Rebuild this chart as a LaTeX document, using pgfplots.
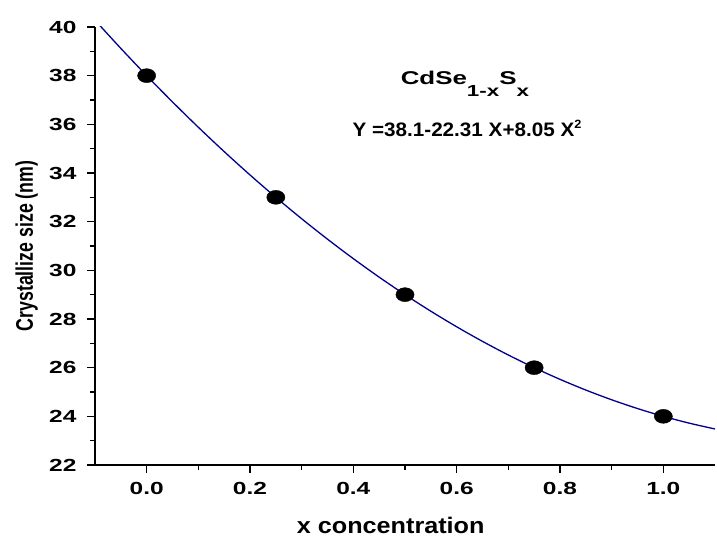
\documentclass[border=0pt]{standalone}
\usepackage{fontspec}
\setmainfont{Liberation Sans}
\newfontfamily\tickf[FakeStretch=1.4]{Liberation Sans}
\newfontfamily\xlabf[FakeStretch=1.12]{Liberation Sans}
\newfontfamily\ylabf[FakeStretch=0.74]{Liberation Sans}
\newfontfamily\eqf[FakeStretch=1.06]{Liberation Sans}
\newfontfamily\cdf[FakeStretch=1.4]{Liberation Sans}
\usepackage{pgfplots}
\pgfplotsset{compat=1.18}
\definecolor{fitblue}{RGB}{0,0,140}

\begin{document}
\begin{tikzpicture}
\begin{axis}[
    scale only axis,
    width=620pt, height=438pt,
    xmin=-0.1, xmax=1.1,
    ymin=22, ymax=40,
    axis x line*=bottom,
    axis y line*=left,
    axis line style={-, line width=1.4pt},
    xtick={0,0.2,...,1.0},
    ytick={22,24,...,40},
    minor x tick num=1,
    minor y tick num=1,
    tick align=outside,
    major tick length=8pt,
    minor tick length=5pt,
    tick style={line width=1.2pt, black},
    xticklabel style={yshift=-6pt, /pgf/number format/fixed, /pgf/number format/fixed zerofill, /pgf/number format/precision=1},
    /pgf/number format/assume math mode=true,
    ticklabel style={font=\fontsize{17.5}{20}\tickf\bfseries},
    yticklabel style={xshift=-7pt},
    xlabel={x concentration},
    ylabel={Crystallize size (nm)},
    xlabel style={font=\fontsize{22.5}{26}\xlabf\bfseries,
        at={(axis description cs:0.477,-0.1553)}, anchor=base},
    ylabel style={font=\fontsize{24}{28}\ylabf\bfseries,
        at={(axis description cs:-0.1,0.5)}, anchor=base},
]
% fitted curve (drawn as the least-squares parabola through the points)
\addplot[fitblue, line width=1.3pt, smooth] coordinates {
    (-0.10,40.28) (-0.05,39.12) (0.00,38.00) (0.05,36.92)
    (0.10,35.88) (0.15,34.88) (0.20,33.92) (0.25,33.00)
    (0.30,32.12) (0.35,31.28) (0.40,30.48) (0.45,29.72)
    (0.50,29.00) (0.55,28.32) (0.60,27.68) (0.65,27.08)
    (0.70,26.52) (0.75,26.00) (0.80,25.52) (0.85,25.08)
    (0.90,24.68) (0.95,24.32) (1.00,24.00) (1.05,23.72)
    (1.10,23.48)
};
\addplot[only marks, mark=*, mark size=7pt, mark options={black, xscale=1.3}] coordinates {
    (0,38) (0.25,33) (0.5,29) (0.75,26) (1.0,24)
};
\node[anchor=base, inner sep=0pt, font=\fontsize{18.5}{20}\cdf\bfseries] at (axis cs:0.616,37.62)
    {CdSe\raisebox{-11.5pt}{\fontsize{16}{16}\selectfont 1-x}S\raisebox{-11.5pt}{\fontsize{16}{16}\selectfont x}};
\node[anchor=base, inner sep=0pt, font=\fontsize{19.5}{22}\eqf\bfseries] at (axis cs:0.62,35.52)
    {Y =38.1-22.31 X+8.05 X\raisebox{8pt}{\fontsize{12}{12}\selectfont 2}};
\end{axis}
\path (current axis.south west) ++(-95pt,-85pt) coordinate (bl);
\path (current axis.north east) ++(2pt,27pt) coordinate (tr);
\useasboundingbox (bl) rectangle (tr);
\end{tikzpicture}
\end{document}
